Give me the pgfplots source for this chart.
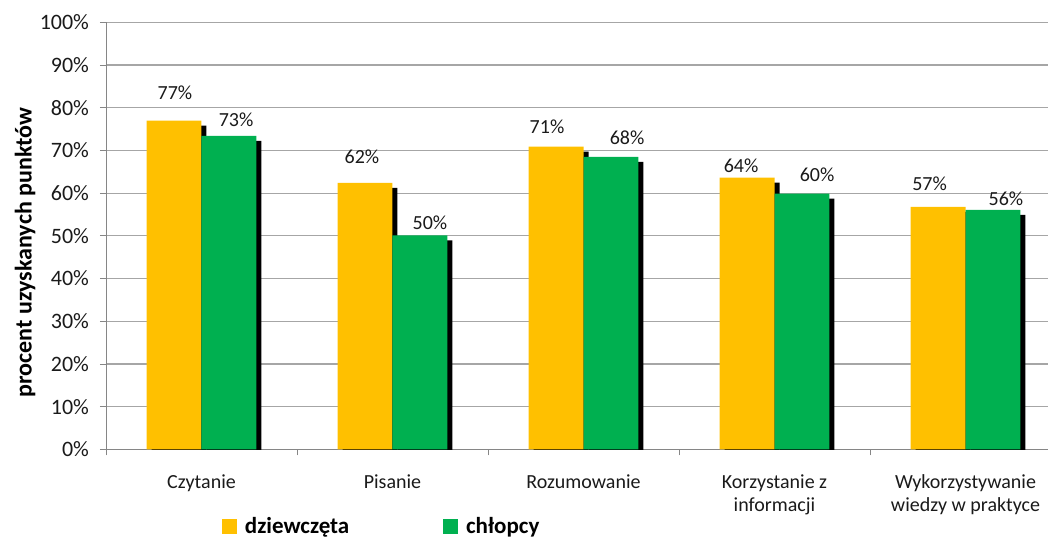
\documentclass[border=0pt]{standalone}
\usepackage{fontspec}
\setmainfont{Carlito}
\usepackage{pgfplots}
\pgfplotsset{compat=1.18}
\usetikzlibrary{shadows}
\definecolor{barY}{HTML}{FFC000}
\definecolor{barG}{HTML}{00B050}
\definecolor{gridc}{HTML}{A6A6A6}
\definecolor{axisc}{HTML}{868686}
\definecolor{txt}{HTML}{1A1A1A}
\begin{document}
\begin{tikzpicture}
\useasboundingbox (-53pt,-44.35pt) rectangle (471pt,224.65pt);
\begin{axis}[
  at={(0,0)}, anchor=south west,
  scale only axis, width=477.5pt, height=213.5pt,
  xmin=0, xmax=5, ymin=0, ymax=100, enlargelimits=false,
  axis x line*=bottom, axis y line*=left,
  axis line style={draw=axisc, -},
  ytick={0,10,...,100},
  yticklabel={\pgfmathprintnumber{\tick}\%},
  ymajorgrids, major grid style={draw=gridc, line width=0.6pt},
  tick align=outside,
  major tick length=3pt, minor tick length=3pt,
  every tick/.style={draw=axisc},
  xtick={0.5,1.5,2.5,3.5,4.5},
  major x tick style={draw=none},
  minor xtick={0,1,2,3,4,5},
  xticklabels={Czytanie, Pisanie, Rozumowanie, {Korzystanie z\\informacji}, {Wykorzystywanie\\wiedzy w praktyce}},
  x tick label style={align=center, anchor=north, yshift=-6pt, font=\fontsize{10}{11.5}\selectfont, text=txt},
  y tick label style={xshift=-2pt, font=\fontsize{11}{13}\selectfont, text=txt},
  /pgf/number format/assume math mode=true,
  ylabel={procent uzyskanych punktów},
  ylabel style={at={(axis description cs:-0.0848,0.461)}, anchor=center, font=\fontsize{12}{14}\selectfont\bfseries},
  legend columns=2,
  legend style={at={(axis description cs:0.1212,-0.1492)}, anchor=north west, draw=none, fill=none, inner sep=0pt,
    font=\fontsize{11.5}{13}\selectfont\bfseries,
    /tikz/every odd column/.append style={column sep=2pt},
    /tikz/every even column/.append style={column sep=45pt}},
  legend cell align=left,
]
\addlegendimage{legend image code/.code={\fill[barY] (0pt,-3pt) rectangle (7pt,4pt);}}
\addlegendentry{dziewczęta}
\addlegendimage{legend image code/.code={\fill[barG] (0pt,-3pt) rectangle (7pt,4pt);}}
\addlegendentry{chłopcy}
\addplot[ybar, bar width=0.287, bar shift=-0.1435, fill=barY, draw=none, forget plot,
  drop shadow={shadow xshift=2.5pt, shadow yshift=-2.5pt, fill=black, opacity=1}]
  coordinates {(0.5,77.0) (1.5,62.4) (2.5,70.9) (3.5,63.6) (4.5,56.8)};
\addplot[ybar, bar width=0.287, bar shift=0.1435, fill=barG, draw=none, forget plot,
  drop shadow={shadow xshift=2.5pt, shadow yshift=-2.5pt, fill=black, opacity=1}]
  coordinates {(0.5,73.4) (1.5,50.1) (2.5,68.5) (3.5,59.9) (4.5,56.1)};
\addplot[draw=none, mark=none, forget plot, point meta=explicit,
  nodes near coords={\pgfmathprintnumber{\pgfplotspointmeta}\%},
  nodes near coords style={anchor=center, font=\fontsize{10}{12}\selectfont, text=txt}]
  table[meta=m] {
x y m
0.361 83.5 77
0.681 77.2 73
1.340 68.6 62
1.696 53.0 50
2.309 75.5 71
2.728 73.0 68
3.325 66.4 64
3.723 64.3 60
4.312 62.2 57
4.712 58.7 56
};
\end{axis}
\end{tikzpicture}
\end{document}
